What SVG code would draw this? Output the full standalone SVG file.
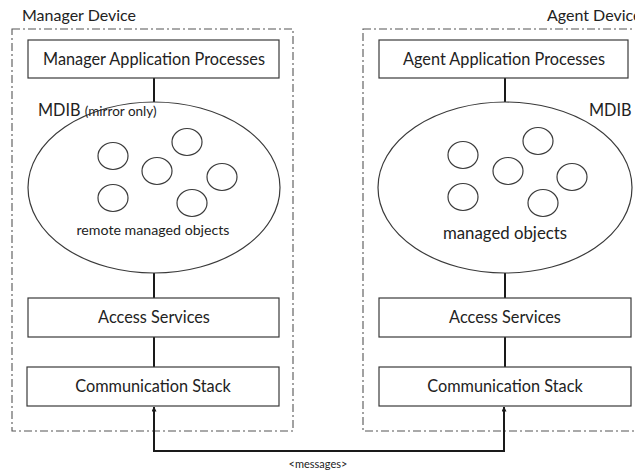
<svg xmlns="http://www.w3.org/2000/svg" width="635" height="472" viewBox="0 0 635 472">
<defs>
<style>
.t{font-family:Lato,"Open Sans","Liberation Sans",sans-serif;fill:#222;font-size:16.3px}
.c{text-anchor:middle}
.box{fill:#fff;stroke:#3a3a3a;stroke-width:1.2}
.dev{fill:none;stroke:#555;stroke-width:1.1;stroke-dasharray:8 3 2 3}
.ell{fill:#fff;stroke:#3a3a3a;stroke-width:1.2}
.obj{fill:none;stroke:#3a3a3a;stroke-width:1.2}
.ln{stroke:#1a1a1a;stroke-width:2;fill:none}
</style>
<marker id="ah" viewBox="0 0 10 10" refX="9" refY="5" markerWidth="5" markerHeight="5" orient="auto-start-reverse" markerUnits="userSpaceOnUse">
<path d="M0,0 L10,5 L0,10 z" fill="#1a1a1a"/>
</marker>
</defs>
<rect width="635" height="472" fill="#fff"/>

<g id="manager-device">
<rect class="dev" x="12" y="29" width="281" height="402"/>
<text class="t" x="22" y="21" style="font-size:16px">Manager Device</text>
</g>
<g id="agent-device">
<rect class="dev" x="363" y="29" width="300" height="402"/>
<text class="t" x="547" y="21" style="font-size:16px">Agent Device</text>
</g>

<g id="connectors">
<line class="ln" x1="154" y1="78" x2="154" y2="102"/>
<line class="ln" x1="154" y1="273" x2="154" y2="298"/>
<line class="ln" x1="154" y1="337" x2="154" y2="367"/>
<line class="ln" x1="505" y1="78" x2="505" y2="102"/>
<line class="ln" x1="505" y1="273" x2="505" y2="298"/>
<line class="ln" x1="505" y1="337" x2="505" y2="367"/>
<path class="ln" d="M154,407 V451 H504 V407" marker-start="url(#ah)" marker-end="url(#ah)"/>
<text class="t c" x="318" y="468" style="font-size:11px">&lt;messages&gt;</text>
</g>

<g id="manager-app">
<rect class="box" x="28" y="40" width="251" height="38"/>
<text class="t c" x="154" y="64.5">Manager Application Processes</text>
</g>
<g id="manager-mdib">
<ellipse class="ell" cx="154" cy="187.5" rx="126" ry="85.5"/>
<text class="t" x="38" y="116">MDIB <tspan style="font-size:13.5px">(mirror only)</tspan></text>
<ellipse class="obj" cx="113" cy="156" rx="15" ry="13.5"/>
<ellipse class="obj" cx="187" cy="142" rx="15" ry="13.5"/>
<ellipse class="obj" cx="157" cy="171" rx="15" ry="13.5"/>
<ellipse class="obj" cx="222" cy="177" rx="15" ry="13.5"/>
<ellipse class="obj" cx="113" cy="198" rx="15" ry="13.5"/>
<ellipse class="obj" cx="192" cy="203" rx="15" ry="13.5"/>
<text class="t c" x="153" y="235" style="font-size:14.2px">remote managed objects</text>
</g>
<g id="manager-access">
<rect class="box" x="28" y="298" width="251" height="39"/>
<text class="t c" x="154" y="322.5">Access Services</text>
</g>
<g id="manager-comm">
<rect class="box" x="27" y="367" width="252" height="39"/>
<text class="t c" x="153" y="391.5">Communication Stack</text>
</g>

<g id="agent-app">
<rect class="box" x="379" y="40" width="249" height="38"/>
<text class="t c" x="504" y="64.5">Agent Application Processes</text>
</g>
<g id="agent-mdib">
<ellipse class="ell" cx="505" cy="187.5" rx="127" ry="85.5"/>
<text class="t" x="589" y="116">MDIB</text>
<ellipse class="obj" cx="463" cy="155" rx="15" ry="13.5"/>
<ellipse class="obj" cx="538" cy="141" rx="15" ry="13.5"/>
<ellipse class="obj" cx="508" cy="171" rx="15" ry="13.5"/>
<ellipse class="obj" cx="572" cy="177" rx="15" ry="13.5"/>
<ellipse class="obj" cx="463" cy="197" rx="15" ry="13.5"/>
<ellipse class="obj" cx="543" cy="203" rx="15" ry="13.5"/>
<text class="t c" x="505" y="239" style="font-size:16.8px">managed objects</text>
</g>
<g id="agent-access">
<rect class="box" x="379" y="298" width="252" height="39"/>
<text class="t c" x="505" y="322.5">Access Services</text>
</g>
<g id="agent-comm">
<rect class="box" x="379" y="367" width="252" height="39"/>
<text class="t c" x="505" y="391.5">Communication Stack</text>
</g>
</svg>
